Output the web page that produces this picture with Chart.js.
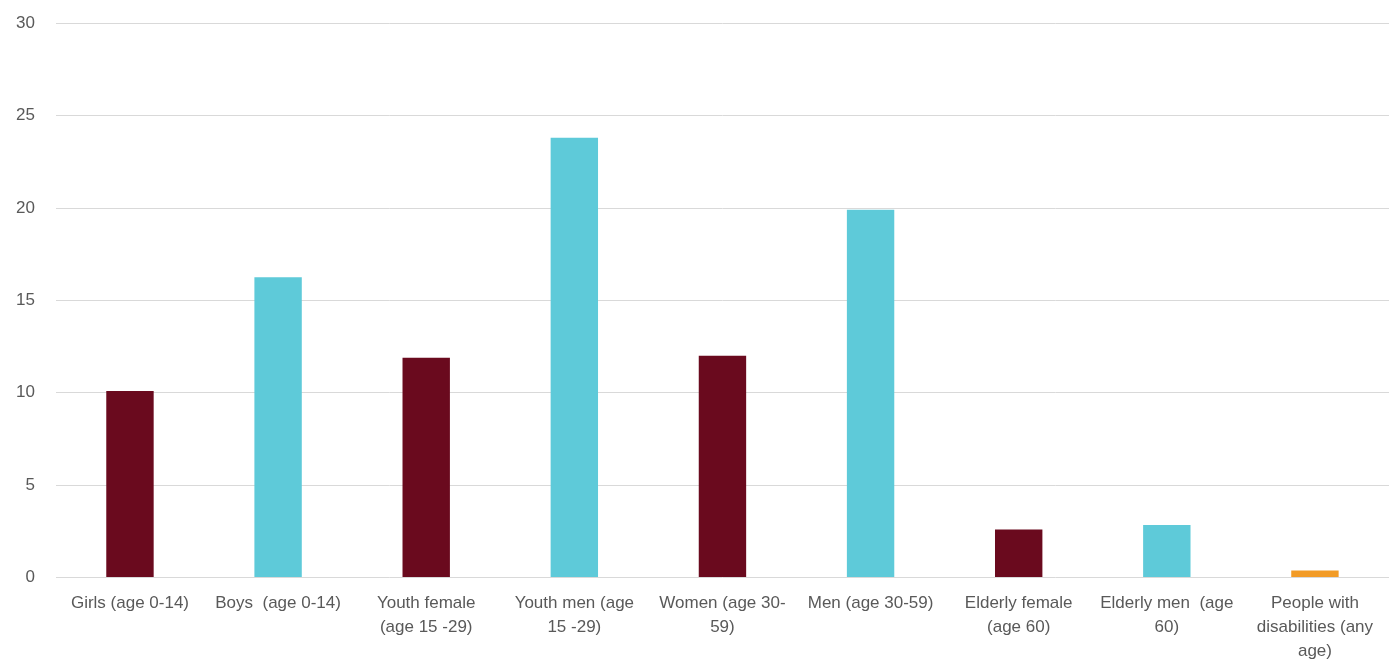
<!DOCTYPE html>
<html>
<head>
<meta charset="utf-8">
<script src="https://cdn.jsdelivr.net/npm/chart.js@4"></script>
<style>
  html, body { margin: 0; padding: 0; background: #fff; overflow: hidden; }
  #wrap { width: 1389px; height: 671px; margin-top: -8px; position: relative; }
</style>
</head>
<body>
<div id="wrap"><canvas id="grafica"></canvas></div>
<script>
// --- DATOS ---
const categories = [
    'Girls (age 0-14)',
    'Boys  (age 0-14)',
    ['Youth female', '(age 15 -29)'],
    ['Youth men (age', '15 -29)'],
    ['Women (age 30-', '59)'],
    'Men (age 30-59)',
    ['Elderly female', '(age 60)'],
    ['Elderly men  (age', '60)'],
    ['People with', 'disabilities (any', 'age)']
];
const values = [10.1, 16.25, 11.9, 23.8, 12.0, 19.9, 2.6, 2.85, 0.38];
const barColors = ['#6A0A1E', '#5ECAD9', '#6A0A1E', '#5ECAD9', '#6A0A1E', '#5ECAD9', '#6A0A1E', '#5ECAD9', '#F29B26'];
const yTicks = [0, 5, 10, 15, 20, 25, 30];

Chart.defaults.font.family = '"Liberation Sans", Arial, sans-serif';
Chart.defaults.font.size = 17;
Chart.defaults.color = '#595959';

const ctx = document.getElementById('grafica').getContext('2d');
new Chart(ctx, {
    type: 'bar',
    data: {
        labels: categories,
        datasets: [{
            data: values,
            backgroundColor: barColors,
            borderWidth: 0,
            barPercentage: 0.32,
            categoryPercentage: 1.0
        }]
    },
    options: {
        responsive: true,
        maintainAspectRatio: false,
        animation: false,
        layout: { padding: { top: 0, right: 0, left: -5, bottom: -14 } },
        plugins: { legend: { display: false }, tooltip: { enabled: false } },
        scales: {
            x: {
                grid: { display: false, drawTicks: false },
                border: { display: false },
                ticks: { maxRotation: 0, autoSkip: false, padding: 14, font: { lineHeight: 1.4 } }
            },
            y: {
                min: 0,
                max: 30,
                afterBuildTicks: axis => { axis.ticks = yTicks.map(v => ({ value: v })); },
                grid: { color: '#d9d9d9', lineWidth: 1, drawTicks: false },
                border: { display: false },
                ticks: { padding: 21 }
            }
        }
    }
});
</script>
</body>
</html>
